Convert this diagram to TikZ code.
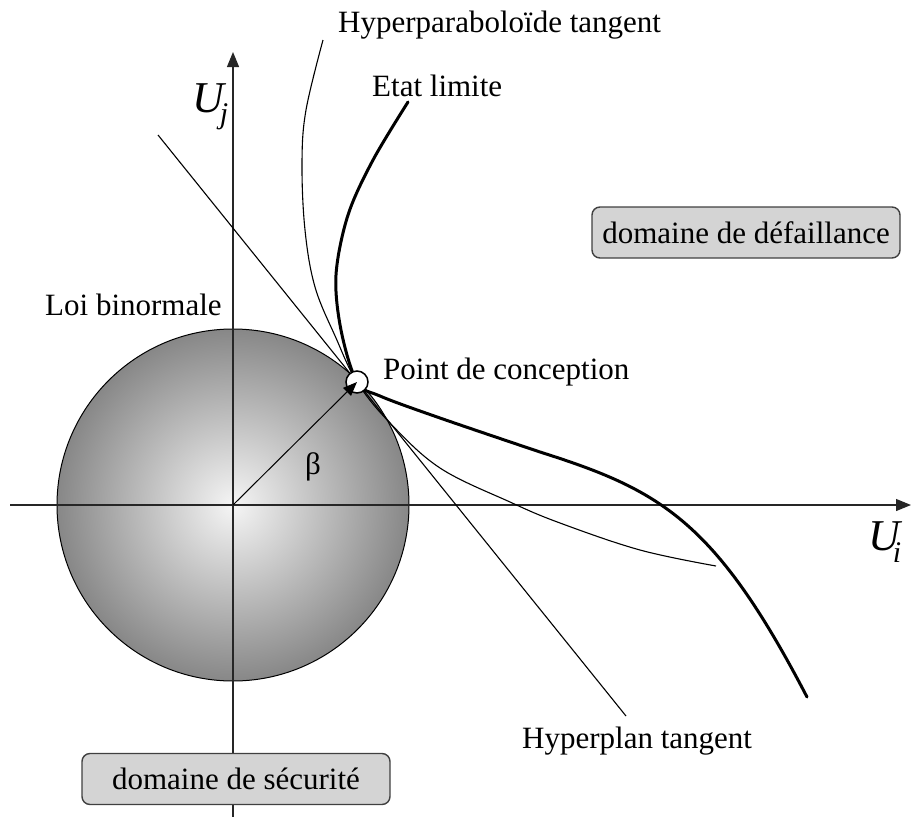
\documentclass[tikz,border=0pt]{standalone}
\usepackage{fontspec}
\setmainfont{Liberation Serif}
\usetikzlibrary{arrows.meta}
\begin{document}
\begin{tikzpicture}[x=1pt,y=-1pt,
  lbl/.style={font=\fontsize{31}{37}\selectfont, inner sep=0pt},
  region/.style={lbl, draw=black!75, line width=1.4pt, fill=black!17, rounded corners=8pt, minimum width=308pt, minimum height=51pt},
  axisline/.style={line width=1.2pt, black!85, -{Triangle[length=15pt,width=12pt]}},
  thincurve/.style={line width=1.1pt},
  thickcurve/.style={line width=3pt},
  axlbl/.style={font=\fontsize{44}{50}\selectfont\itshape, inner sep=0pt}
]
\useasboundingbox (0,0) rectangle (911,817);
\coordinate (O) at (233,505);
\coordinate (P) at (357,382);
% standard normal disc
\shade[inner color=black!4, outer color=black!47] (O) circle (176);
\draw[line width=1pt] (O) circle (176);
% axes
\coordinate (xs) at (10,505);
\coordinate (xe) at (911,505);
\coordinate (ys) at (233,817);
\coordinate (ye) at (233,52);
\draw[axisline] (xs) -- (xe);
\draw[axisline] (ys) -- (ye);
% tangent hyperplane
\coordinate (ta) at (158,135);
\coordinate (tb) at (626,716);
\draw[thincurve] (ta) -- (tb);
% tangent hyperparaboloid
\draw[thincurve] plot[smooth, tension=0.6] coordinates {(323,40) (306,110) (302,163) (305,230) (315,287) (336,338) (357,382) (390,423) (440,468) (510,502) (560,523) (640,550) (716,566)};
% limit state
\coordinate (ls1) at (540,452);
\coordinate (ls2) at (807,697);
\draw[thickcurve, line cap=round] plot[smooth, tension=0.55] coordinates {(408,102) (373,160) (348,215) (336,275) (341,330) (357,382) (380,396) (440,418) (540,452)}
  .. controls (660,490) and (715,520) .. (ls2);
% design point and beta
\draw[line width=1.5pt, fill=white] (P) circle (11);
\draw[line width=1pt, -{Triangle[length=14pt,width=11pt]}] (O) -- (P);
\node[lbl] (beta) at (313,467) {β};
% labels
\node[lbl, anchor=base west] (hpt) at (338,32) {Hyperparaboloïde tangent};
\node[lbl, anchor=base west] (el) at (372,96) {Etat limite};
\node[lbl, anchor=base west] (lb) at (45,315) {Loi binormale};
\node[lbl, anchor=base west] (pc) at (383,379) {Point de conception};
\node[lbl, anchor=base west] (hp) at (522,748) {Hyperplan tangent};
\node[region] (df) at (746,232.5) {domaine de défaillance};
\node[region] (ds) at (236,779) {domaine de sécurité};
\node[axlbl, anchor=base west] (uj) at (192,112) {U\kern-4pt\raisebox{-11pt}{\fontsize{30}{30}\selectfont j}};
\node[axlbl, anchor=base west] (ui) at (868,550) {U\kern-7pt\raisebox{-12pt}{\fontsize{30}{30}\selectfont i}};
\end{tikzpicture}
\end{document}
